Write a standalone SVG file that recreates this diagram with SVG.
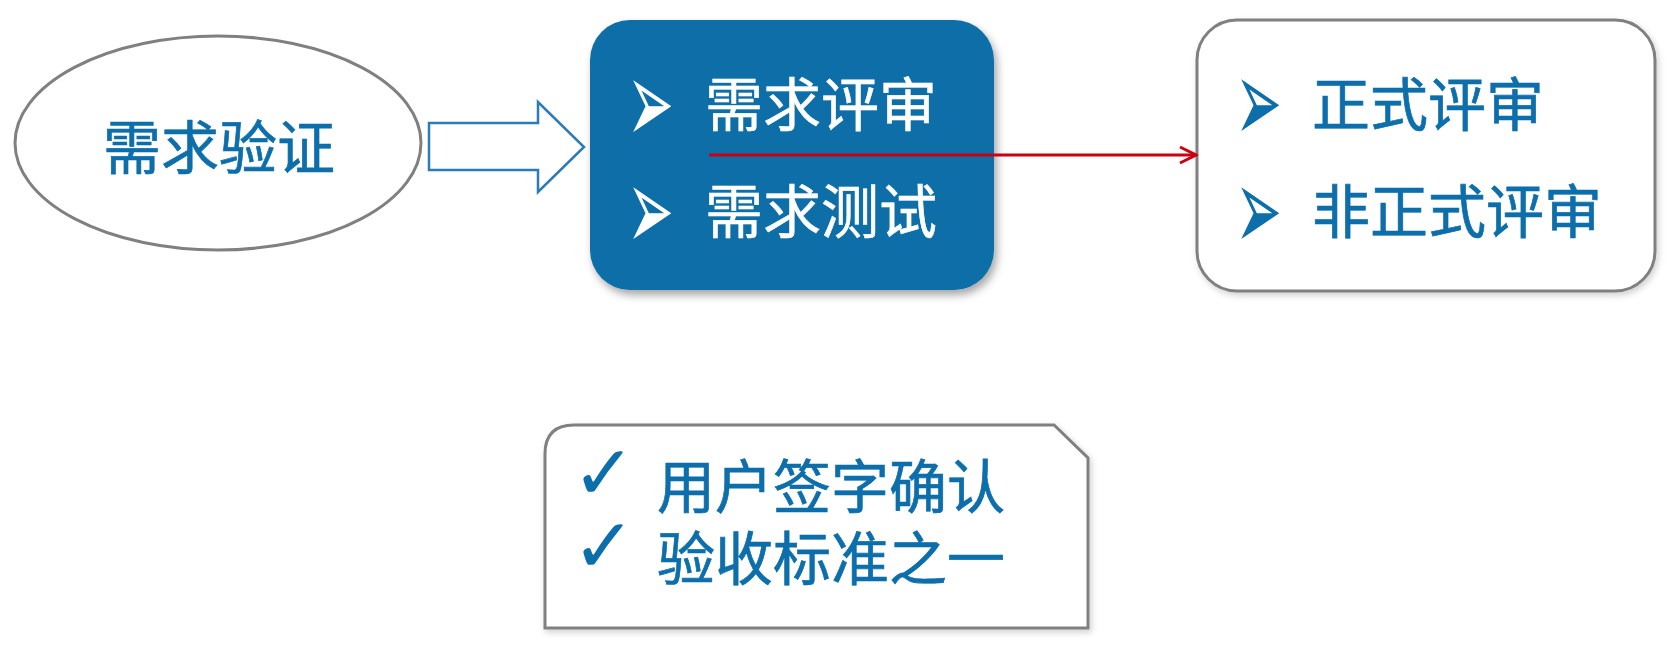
<svg xmlns="http://www.w3.org/2000/svg" width="1676" height="652" viewBox="0 0 1676 652">
<style>
.t{font-family:"Noto Sans CJK SC","Noto Sans",sans-serif;font-size:58px;}
.blue{fill:#0C6EAA;}
.tb{stroke:#0C6EAA;stroke-width:0.7;}
.white{fill:#ffffff;}
.tw{stroke:#ffffff;stroke-width:0.6;}
.bul{font-family:"DejaVu Sans",sans-serif;font-size:56px;}
.chk{font-family:"DejaVu Sans",sans-serif;font-size:76px;fill:#0C6EAA;}
.outline{fill:#ffffff;stroke:#808080;stroke-width:3;}
</style>
<defs>
<filter id="sh" x="-10%" y="-10%" width="125%" height="130%">
<feDropShadow dx="3" dy="5" stdDeviation="4" flood-color="#000" flood-opacity="0.35"/>
</filter>
<filter id="sh2" x="-10%" y="-10%" width="125%" height="130%">
<feDropShadow dx="2" dy="3" stdDeviation="3" flood-color="#000" flood-opacity="0.18"/>
</filter>
<marker id="ah" viewBox="0 0 20 20" refX="18" refY="10" markerWidth="20" markerHeight="20" markerUnits="userSpaceOnUse" orient="auto">
<path d="M2,2 L18,10 L2,18" fill="none" stroke="#CC0011" stroke-width="3"/>
</marker>
</defs>
<rect width="1676" height="652" fill="#ffffff"/>

<g id="node-verify">
<ellipse cx="218" cy="143" rx="203" ry="107" class="outline"/>
<text x="219" y="169" class="t blue tb" text-anchor="middle">需求验证</text>
</g>

<g id="node-methods">
<rect x="590" y="20" width="404" height="270" rx="40" fill="#0C6EA8" filter="url(#sh)"/>
<text transform="translate(627,143) scale(1,2.1)" class="bul white">➢</text>
<text x="705" y="126" class="t white tw">需求评审</text>
<text transform="translate(627,250) scale(1,2.1)" class="bul white">➢</text>
<text x="705" y="233" class="t white tw">需求测试</text>
</g>

<g id="node-review">
<rect x="1197" y="20" width="458" height="271" rx="40" class="outline" filter="url(#sh2)"/>
<text transform="translate(1235,142) scale(1,2.1)" class="bul blue">➢</text>
<text x="1312" y="126" class="t blue tb">正式评审</text>
<text transform="translate(1235,250) scale(1,2.1)" class="bul blue">➢</text>
<text x="1312" y="233" class="t blue tb">非正式评审</text>
</g>

<g id="node-signoff">
<path d="M545,628 L545,454 Q545,425 574,425 L1054,425 L1088,458 L1088,628 Z" class="outline" filter="url(#sh2)"/>
<text x="572" y="499" class="chk">✓</text>
<text x="657" y="508" class="t blue tb">用户签字确认</text>
<text x="572" y="572" class="chk">✓</text>
<text x="657" y="580" class="t blue tb">验收标准之一</text>
</g>

<g id="connectors">
<path d="M429,123 L538,123 L538,102 L584,147 L538,192 L538,170 L429,170 Z" fill="#ffffff" stroke="#2B7BB6" stroke-width="2.5" stroke-linejoin="miter"/>
<line x1="709" y1="155" x2="1196" y2="155" stroke="#CC0011" stroke-width="3" marker-end="url(#ah)"/>
</g>
</svg>
